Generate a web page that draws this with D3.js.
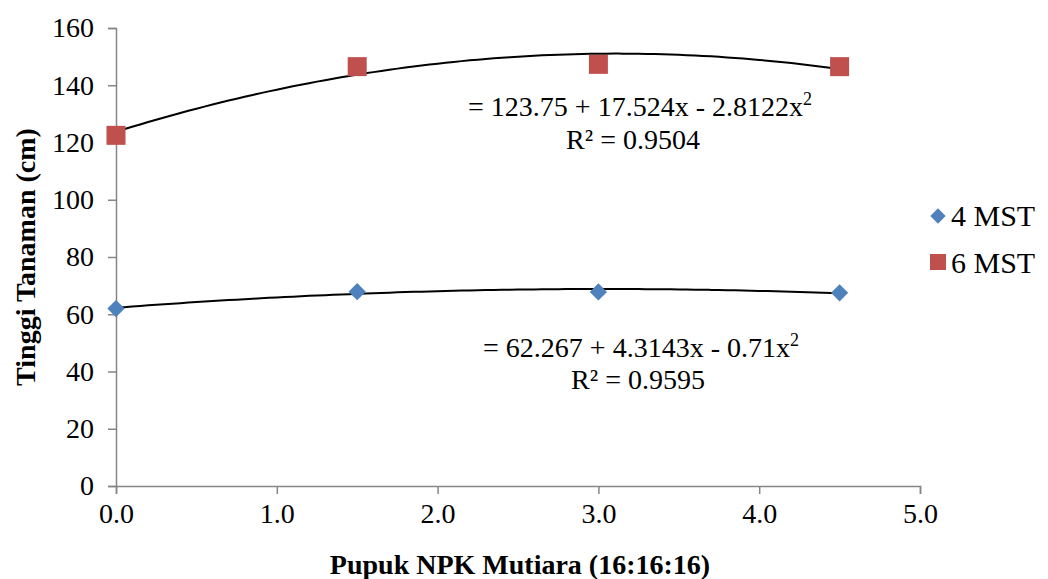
<!DOCTYPE html>
<html>
<head>
<meta charset="utf-8">
<script src="https://cdn.jsdelivr.net/npm/d3@7"></script>
<style>
  body { margin: 0; background: #fff; }
  text { font-family: "Liberation Serif", "Times New Roman", serif; fill: #000; }
</style>
</head>
<body>
<div id="chart"></div>
<script>
// data
var doses = [0, 1.5, 3.0, 4.5];
var mst4 = [62.0, 67.9, 67.8, 67.5];
var mst6 = [122.5, 146.5, 147.3, 146.5];

// trendline coefficients (c0, c1, c2) as printed on the chart
var coef4 = [62.267, 4.3143, -0.71];
var coef6 = [123.75, 17.524, -2.8122];

var xTicks = [0, 1, 2, 3, 4, 5];
var yTicks = [0, 20, 40, 60, 80, 100, 120, 140, 160];

var W = 1048, H = 579;
var m = {left: 116, right: 920, top: 28, bottom: 486};
var fs = "28px";

var svg = d3.select("#chart").append("svg")
    .attr("width", W)
    .attr("height", H);

var x = d3.scaleLinear().domain([0, 5]).range([m.left, m.right]);
var y = d3.scaleLinear().domain([0, 160]).range([m.bottom, m.top]);

var axisColor = "#868686";

// y axis
var yAxis = svg.append("g")
    .attr("transform", "translate(" + m.left + ",0)")
    .call(d3.axisLeft(y).tickValues(yTicks).tickSize(8).tickPadding(14));
// x axis
var xAxis = svg.append("g")
    .attr("transform", "translate(0," + m.bottom + ")")
    .call(d3.axisBottom(x).tickValues(xTicks).tickSize(8).tickPadding(9)
      .tickFormat(d3.format(".1f")));

[yAxis, xAxis].forEach(function(a) {
  a.select(".domain").attr("stroke", axisColor).attr("stroke-width", 1.5);
  a.selectAll(".tick line").attr("stroke", axisColor).attr("stroke-width", 1.5);
  a.selectAll(".tick text")
      .style("font-family", "Liberation Serif")
      .style("font-size", fs)
      .attr("fill", "#000");
});

// axis titles
svg.append("text")
    .attr("x", 520)
    .attr("y", 574)
    .attr("text-anchor", "middle")
    .style("font-size", fs)
    .style("font-weight", "bold")
    .text("Pupuk NPK Mutiara (16:16:16)");

svg.append("text")
    .attr("transform", "translate(35," + ((m.top + m.bottom) / 2) + ") rotate(-90)")
    .attr("text-anchor", "middle")
    .style("font-size", fs)
    .style("font-weight", "bold")
    .text("Tinggi Tanaman (cm)");

// trendlines
function poly(c, v) { return c[0] + c[1] * v + c[2] * v * v; }
var curve = d3.line()
    .x(function(d) { return x(d); })
    .curve(d3.curveMonotoneX);

[coef4, coef6].forEach(function(c) {
  var xs = d3.range(0, 4.5001, 0.05);
  svg.append("path")
      .datum(xs)
      .attr("fill", "none")
      .attr("stroke", "#000")
      .attr("stroke-width", 2)
      .attr("d", curve.y(function(d) { return y(poly(c, d)); }));
});

// markers
var diamond = d3.symbol().type(d3.symbolDiamond2).size(190);

svg.selectAll(".m4")
  .data(doses.map(function(d, i) { return [d, mst4[i]]; }))
  .enter().append("path")
    .attr("class", "m4")
    .attr("transform", function(d) { return "translate(" + x(d[0]) + "," + y(d[1]) + ")"; })
    .attr("d", diamond)
    .attr("fill", "#4f81bd");

var sq = 19;
svg.selectAll(".m6")
  .data(doses.map(function(d, i) { return [d, mst6[i]]; }))
  .enter().append("rect")
    .attr("class", "m6")
    .attr("x", function(d) { return x(d[0]) - sq / 2; })
    .attr("y", function(d) { return y(d[1]) - sq / 2; })
    .attr("width", sq)
    .attr("height", sq)
    .attr("fill", "#c0504d");

// equation labels
function eqLabel(cx, by, s) {
  var t = svg.append("text")
      .attr("x", cx)
      .attr("y", by)
      .attr("text-anchor", "middle")
      .style("font-size", fs);
  t.append("tspan").text(s);
  t.append("tspan").attr("dy", -11).style("font-size", "18px").text("2");
}
eqLabel(640, 116, "= 123.75 + 17.524x - 2.8122x");
svg.append("text").attr("x", 633).attr("y", 149).attr("text-anchor", "middle")
    .style("font-size", fs).text("R² = 0.9504");

eqLabel(641, 357, "= 62.267 + 4.3143x - 0.71x");
svg.append("text").attr("x", 638).attr("y", 389).attr("text-anchor", "middle")
    .style("font-size", fs).text("R² = 0.9595");

// legend
var lg = svg.append("g");
lg.append("path")
    .attr("transform", "translate(938,216)")
    .attr("d", d3.symbol().type(d3.symbolDiamond2).size(150))
    .attr("fill", "#4f81bd");
lg.append("text").attr("x", 951).attr("y", 226).style("font-size", "30px").text("4 MST");
lg.append("rect").attr("x", 930).attr("y", 254).attr("width", 16).attr("height", 16)
    .attr("fill", "#c0504d");
lg.append("text").attr("x", 951).attr("y", 273).style("font-size", "30px").text("6 MST");
</script>
</body>
</html>
